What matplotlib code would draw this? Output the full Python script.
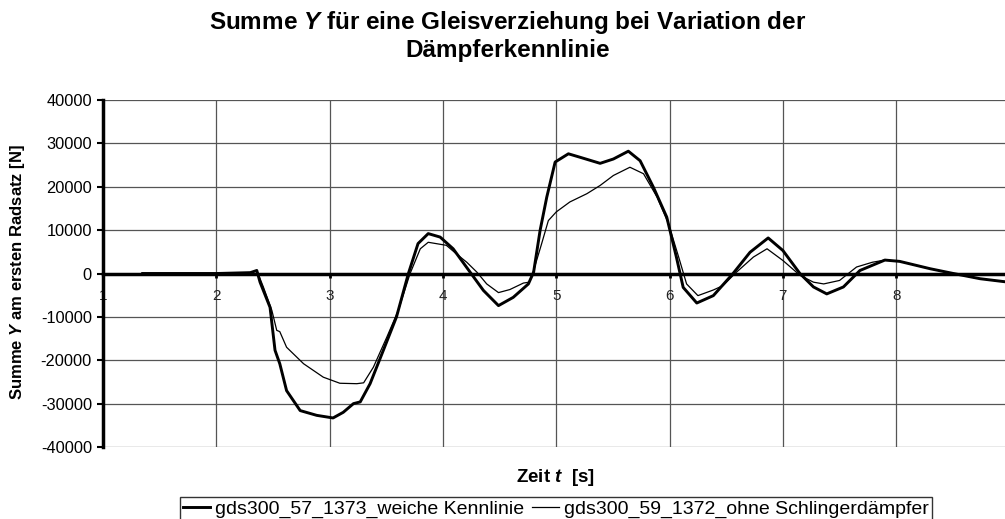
import numpy as np
import matplotlib
matplotlib.use("Agg")
import matplotlib.pyplot as plt
from matplotlib.lines import Line2D

plt.rcParams['font.family'] = ['Liberation Sans', 'DejaVu Sans']
plt.rcParams['mathtext.fontset'] = 'custom'
plt.rcParams['mathtext.it'] = 'Liberation Sans:italic:bold'
plt.rcParams['mathtext.rm'] = 'Liberation Sans:bold'
plt.rcParams['axes.unicode_minus'] = False

# Zeit [s] und Summe Y [N], weiche Kennlinie
t_weich = [1.35, 2.0, 2.30, 2.357, 2.386, 2.474, 2.518, 2.56, 2.62, 2.74, 2.886,
           3.03, 3.12, 3.21, 3.27, 3.357, 3.474, 3.59, 3.695, 3.78, 3.87, 3.975,
           4.09, 4.24, 4.357, 4.49, 4.62, 4.754, 4.80, 4.857, 4.916, 4.99, 5.107,
           5.21, 5.387, 5.504, 5.636, 5.74, 5.857, 5.975, 6.06, 6.12, 6.24, 6.386,
           6.56, 6.71, 6.87, 7.0, 7.15, 7.27, 7.387, 7.534, 7.68, 7.90, 8.03,
           8.30, 8.505, 8.74, 8.96]
y_weich = [0, 0, 200, 700, -2000, -7800, -17700, -20800, -27000, -31600, -32700,
           -33300, -32000, -30000, -29600, -25400, -17700, -10000, 0, 6900, 9200, 8400,
           5700, 300, -3900, -7400, -5500, -2400, 300, 9900, 17600, 25700, 27600,
           26800, 25400, 26400, 28200, 26000, 19900, 13000, 3800, -3200, -6800, -5100,
           0, 4900, 8200, 5300, 0, -3100, -4700, -3100, 700, 3100, 2800,
           1100, 0, -1200, -1900]

# ohne Schlingerdaempfer
t_ohne = [1.35, 2.0, 2.30, 2.357, 2.415, 2.49, 2.533, 2.56, 2.62, 2.77, 2.944,
          3.09, 3.24, 3.30, 3.386, 3.504, 3.606, 3.71, 3.80, 3.87, 4.03, 4.12,
          4.21, 4.30, 4.386, 4.49, 4.59, 4.71, 4.76, 4.80, 4.87, 4.93, 5.00,
          5.12, 5.27, 5.387, 5.504, 5.65, 5.77, 5.89, 5.99, 6.08, 6.15, 6.25,
          6.386, 6.47, 6.59, 6.74, 6.86, 7.0, 7.15, 7.27, 7.36, 7.50, 7.65,
          7.79, 7.90, 8.03, 8.30, 8.505, 8.74, 8.96]
y_ohne = [0, 0, 200, 700, -3100, -8500, -13100, -13400, -17000, -20800, -23900,
          -25300, -25400, -25200, -21600, -14700, -8500, 0, 5700, 7200, 6500, 4500,
          2600, 300, -2400, -4400, -3700, -2200, -2000, 700, 6800, 12200, 14200,
          16500, 18400, 20300, 22600, 24500, 23000, 17600, 11500, 3800, -2400, -5100,
          -3800, -2800, 300, 3800, 5700, 3000, -400, -2000, -2400, -1600, 1500,
          2600, 3100, 2800, 1100, 0, -1200, -1900]

x_ticks = [1, 2, 3, 4, 5, 6, 7, 8]
y_ticks = [-40000, -30000, -20000, -10000, 0, 10000, 20000, 30000, 40000]
labels = ['gds300_57_1373_weiche Kennlinie', 'gds300_59_1372_ohne Schlingerdämpfer']

fig = plt.figure(figsize=(10.05, 5.19), dpi=100)
ax = fig.add_axes([0.1025, 0.1387, 0.8975, 0.6686])

ax.plot(t_weich, y_weich, color='black', lw=2.1, zorder=4)
ax.plot(t_ohne, y_ohne, color='black', lw=0.9, zorder=4)

ax.set_xlim(1, 8.96)
ax.set_ylim(-40000, 40000)
ax.set_xticks(x_ticks)
ax.set_yticks(y_ticks)

ax.grid(True, color='#555555', lw=0.9)
ax.set_axisbelow(True)

ax.spines['top'].set_visible(False)
ax.spines['right'].set_visible(False)
ax.spines['left'].set_linewidth(2.5)
ax.spines['bottom'].set_position(('data', 0))
ax.spines['bottom'].set_linewidth(2.5)
ax.spines['bottom'].set_zorder(3)

ax.tick_params(axis='y', direction='out', length=4, width=1.5, labelsize=11.8, pad=4)
ax.tick_params(axis='x', direction='out', length=3, width=2, labelsize=11, pad=8)
for lab in ax.get_xticklabels():
    lab.set_color('#222222')

# Titel, zweizeilig
fig.text(0.505, 1 - 29 / 519, 'Summe $Y$ für eine Gleisverziehung bei Variation der',
         ha='center', va='baseline', fontsize=17.5, fontweight='bold')
fig.text(0.505, 1 - 57 / 519, 'Dämpferkennlinie',
         ha='center', va='baseline', fontsize=17.5, fontweight='bold')

fig.text(0.017, 1 - 272 / 519, 'Summe $Y$ am ersten Radsatz [N]', rotation=90,
         ha='center', va='center', fontsize=12, fontweight='bold')
fig.text(0.553, 1 - 477 / 519, 'Zeit $t$  [s]', ha='center', va='center',
         fontsize=13.5, fontweight='bold')

handles = [Line2D([], [], color='black', lw=2.1), Line2D([], [], color='black', lw=0.9)]
leg = fig.legend(handles, labels, loc='upper center', bbox_to_anchor=(0.553, 1 - 497 / 519),
                 ncol=2, fontsize=14, frameon=True, fancybox=False, edgecolor='black',
                 borderpad=0.15, handlelength=1.4, handletextpad=0.25, columnspacing=0.4,
                 borderaxespad=0)
leg.get_frame().set_linewidth(1.0)

fig.savefig('out.png', dpi=100)
